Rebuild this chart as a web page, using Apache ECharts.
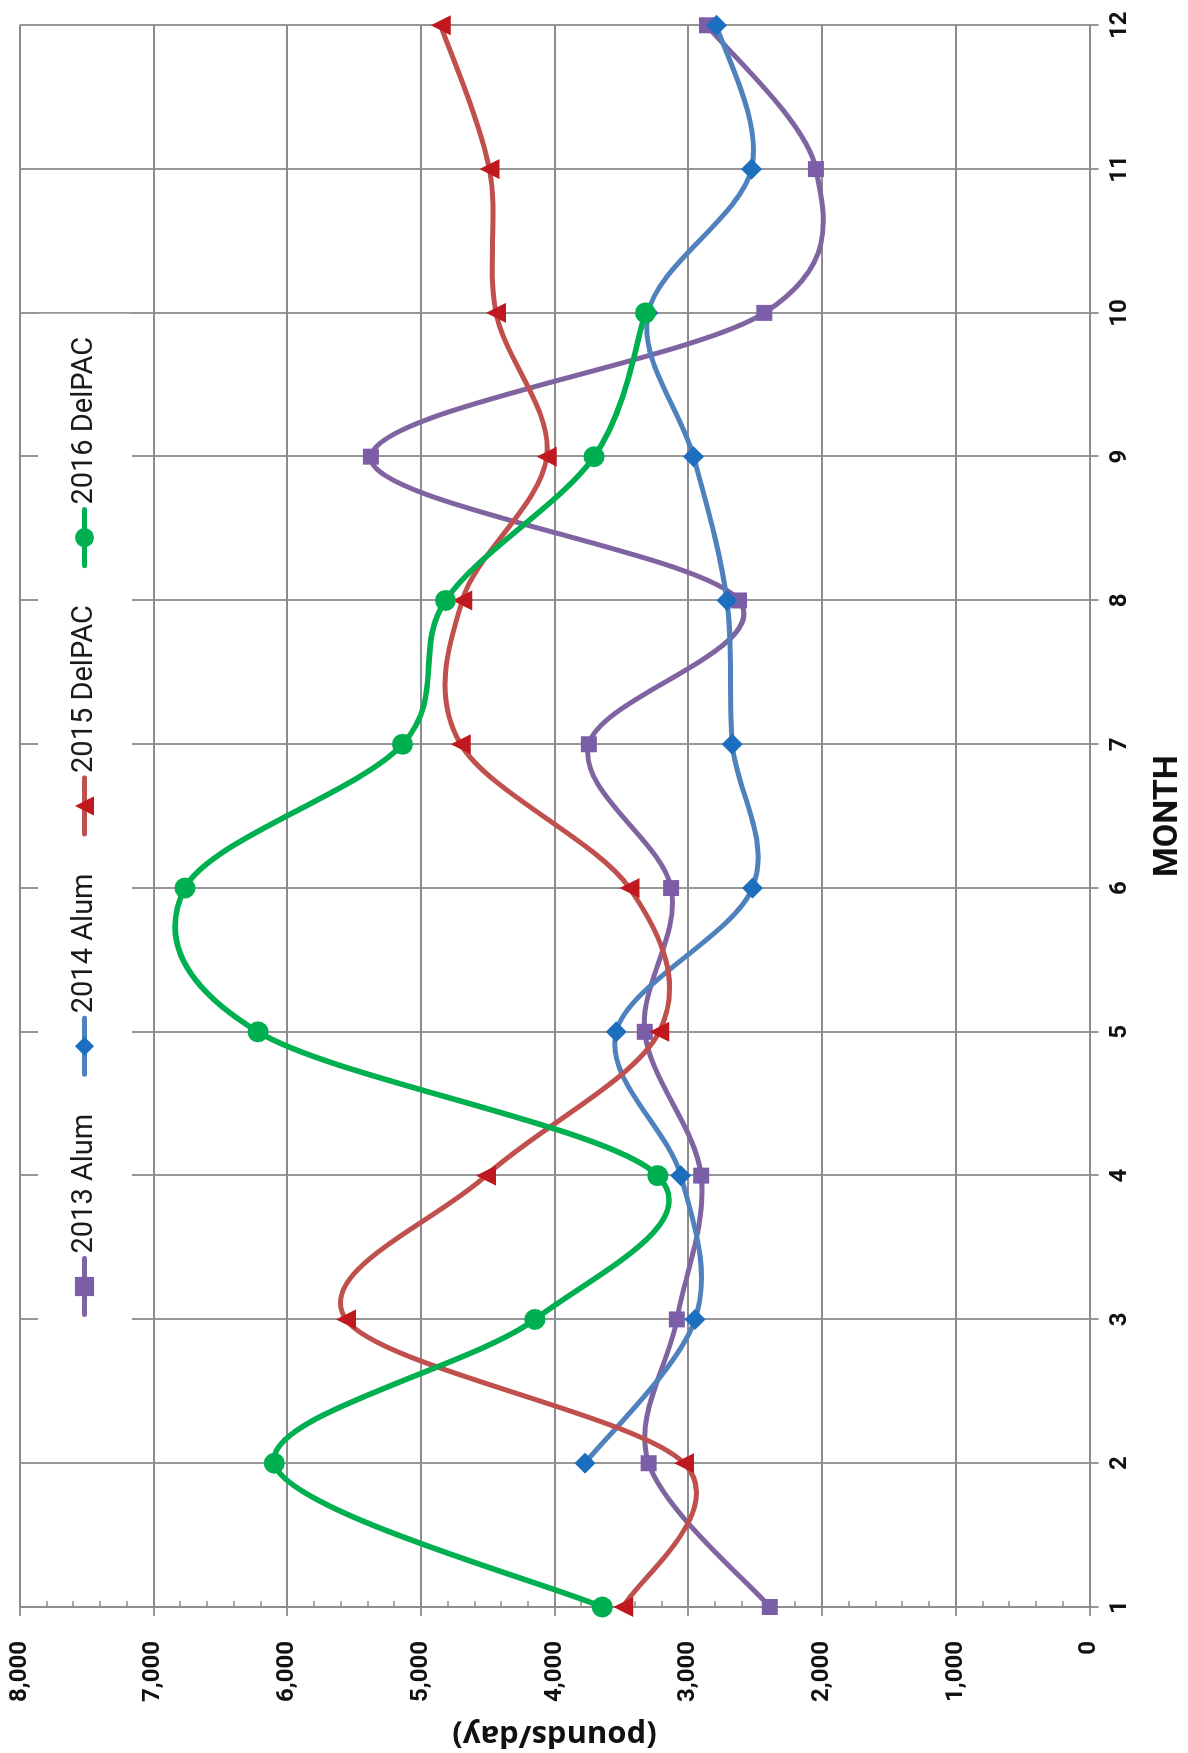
<!DOCTYPE html>
<html>
<head>
<meta charset="utf-8">
<script src="https://cdn.jsdelivr.net/npm/echarts@6/dist/echarts.min.js"></script>
<style>
  html, body { margin: 0; padding: 0; background: #fff; overflow: hidden; width: 1188px; height: 1753px; }
  /* The chart is laid out landscape and turned a quarter turn counter-clockwise onto the portrait page */
  #chart { position: absolute; left: 0; top: 0; width: 1753px; height: 1188px;
           transform-origin: 0 0; transform: translate(0, 1753px) rotate(-90deg); }
</style>
</head>
<body>
<div id="chart"></div>
<script>
// Monthly averages, pounds per day
const months = [1, 2, 3, 4, 5, 6, 7, 8, 9, 10, 11, 12];
const alum2013   = [2390, 3296, 3085, 2903, 3325, 3128, 3743, 2620, 5373, 2431, 2045, 2860];
const alum2014   = [null, 3772, 2949, 3056, 3539, 2520, 2670, 2710, 2960, 3300, 2527, 2788];
const delpac2015 = [3486, 3031, 5559, 4512, 3217, 3439, 4701, 4690, 4058, 4437, 4487, 4851];
const delpac2016 = [3643, 6095, 4147, 3228, 6217, 6764, 5137, 4815, 3704, 3320, null, null];

const seriesNames = ['2013 Alum', '2014 Alum', '2015 DelPAC', '2016 DelPAC'];
const valueTicks = { min: 0, max: 8000, step: 1000 };
const monthTicks = { min: 1, max: 12, step: 1 };

const GRID_GRAY = '#8c8c8c';
const LABEL_FONT = 'Roboto, "Liberation Sans", sans-serif';

function pairs(values) {
  return months.map((m, i) => [m, values[i]]).filter(p => p[1] != null);
}
function withCommas(v) {
  return String(v).replace(/\B(?=(\d{3})+(?!\d))/g, ',');
}

const styles = [
  { line: '#8064A2', marker: '#7B5EA7', symbol: 'rect',     size: 16, width: 5 },
  { line: '#4F81BD', marker: '#1C6EBF', symbol: 'diamond',  size: 21, width: 5 },
  { line: '#C0504D', marker: '#C0181F', symbol: 'triangle', size: 20, width: 5 },
  { line: '#00B050', marker: '#00B050', symbol: 'circle',   size: 21, width: 5.6 }
];
const seriesData = [alum2013, alum2014, delpac2015, delpac2016];

// Smoothed connector: cubic Bezier through every point, tangent at each point
// parallel to the chord joining its neighbours (one sixth of that chord).
function curveSeries(values, st, order) {
  const pts = pairs(values);
  return {
    type: 'custom',
    data: pts,
    encode: { x: 0, y: 1 },
    silent: true,
    z: 2 + order * 2,
    renderItem(params, api) {
      if (params.dataIndex !== 0) return null;
      const P = pts.map(p => api.coord(p));
      let d = 'M' + P[0][0] + ' ' + P[0][1];
      for (let i = 0; i < P.length - 1; i++) {
        const p0 = P[i - 1] || P[i], p1 = P[i], p2 = P[i + 1], p3 = P[i + 2] || P[i + 1];
        const c1x = p1[0] + (p2[0] - p0[0]) / 6, c1y = p1[1] + (p2[1] - p0[1]) / 6;
        const c2x = p2[0] - (p3[0] - p1[0]) / 6, c2y = p2[1] - (p3[1] - p1[1]) / 6;
        d += ' C' + c1x + ' ' + c1y + ' ' + c2x + ' ' + c2y + ' ' + p2[0] + ' ' + p2[1];
      }
      return {
        type: 'path',
        shape: { pathData: d },
        style: { fill: 'none', stroke: st.line, lineWidth: st.width, lineCap: 'round', lineJoin: 'round' }
      };
    }
  };
}

// Markers (and the legend entries) come from plain line series whose own line is hidden
function markerSeries(values, st, order) {
  return {
    name: seriesNames[order],
    type: 'line',
    data: pairs(values),
    symbol: st.symbol,
    symbolSize: st.size,
    showAllSymbol: true,
    lineStyle: { color: st.line, width: st.width, opacity: 0 },
    itemStyle: { color: st.marker },
    emphasis: { disabled: true },
    z: 3 + order * 2
  };
}

const series = [];
seriesData.forEach((vals, i) => {
  series.push(curveSeries(vals, styles[i], i));
  series.push(markerSeries(vals, styles[i], i));
});

const chart = echarts.init(document.getElementById('chart'), null, { renderer: 'canvas' });

chart.setOption({
  animation: false,
  backgroundColor: '#ffffff',
  grid: { left: 146, right: 25.3, top: 19.6, bottom: 98.6, containLabel: false, outerBoundsMode: 'none' },
  legend: {
    left: 413, top: 38,
    padding: [32, 23, 33, 23],
    backgroundColor: '#ffffff',
    itemWidth: 56, itemHeight: 24, itemGap: 37,
    lineStyle: { width: 5, opacity: 1, cap: 'round' },
    textStyle: { fontFamily: LABEL_FONT, fontSize: 29, color: '#1a1a1a', padding: [0, 0, 0, 0] },
    data: seriesNames,
    z: 20
  },
  xAxis: {
    type: 'value',
    min: monthTicks.min, max: monthTicks.max, interval: monthTicks.step,
    name: 'MONTH', nameLocation: 'middle', nameGap: 62,
    nameTextStyle: { fontFamily: LABEL_FONT, fontWeight: 'bold', fontSize: 34, color: '#111' },
    axisLine: { show: true, onZero: false, lineStyle: { color: GRID_GRAY, width: 1.8 } },
    axisTick: { show: true, length: 9, lineStyle: { color: GRID_GRAY, width: 1.8 } },
    axisLabel: { margin: 19, fontFamily: LABEL_FONT, fontWeight: 'bold', fontSize: 24, color: '#111' },
    splitLine: { show: true, lineStyle: { color: GRID_GRAY, width: 1.8 } }
  },
  yAxis: [{
    type: 'value',
    min: valueTicks.min, max: valueTicks.max, interval: valueTicks.step,
    name: '(pounds/day)', nameLocation: 'middle', nameGap: 112, nameRotate: 90,
    nameTextStyle: { fontFamily: '"Open Sans", sans-serif', fontWeight: 'bold', fontSize: 31, color: '#111' },
    axisLine: { show: true, onZero: false, lineStyle: { color: GRID_GRAY, width: 1.8 } },
    axisTick: { show: true, length: 9, lineStyle: { color: GRID_GRAY, width: 1.8 } },
    axisLabel: { margin: 34, fontFamily: LABEL_FONT, fontWeight: 'bold', fontSize: 24, color: '#111',
                 formatter: withCommas },
    splitLine: { show: true, lineStyle: { color: GRID_GRAY, width: 1.8 } }
  }, {
    // companion axis that only carries the inward minor ticks
    type: 'value', position: 'left',
    min: valueTicks.min, max: valueTicks.max, interval: valueTicks.step,
    axisLine: { show: false },
    axisTick: { show: false, inside: true },
    axisLabel: { show: false },
    splitLine: { show: false },
    minorTick: { show: true, splitNumber: 5, length: 6, lineStyle: { color: GRID_GRAY, width: 1.5 } }
  }],
  series: series
});
</script>
</body>
</html>
